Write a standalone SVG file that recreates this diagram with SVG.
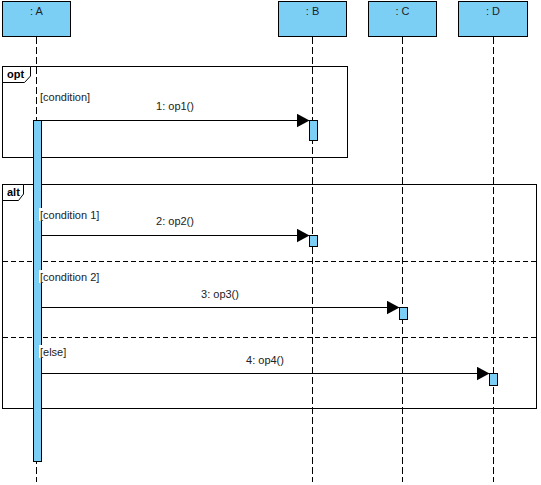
<svg xmlns="http://www.w3.org/2000/svg" width="541" height="485" viewBox="0 0 541 485">
<style>
.head{fill:#7BCFF5;stroke:#000;stroke-width:1}
.act{fill:#7BCFF5;stroke:#000;stroke-width:1}
.life{stroke:#000;stroke-width:1;stroke-dasharray:7,3;fill:none}
.frame{fill:none;stroke:#000;stroke-width:1}
.sep{stroke:#000;stroke-width:1;stroke-dasharray:5,3}
.msg{stroke:#000;stroke-width:1;fill:none;marker-end:url(#arr)}
text{font-family:"Liberation Sans",Arial,sans-serif;font-size:11px;fill:#222}
.tag{font-weight:bold;fill:#000}
.c{text-anchor:middle}
</style>
<defs>
<marker id="arr" markerWidth="13" markerHeight="14" refX="13" refY="7" orient="auto" markerUnits="userSpaceOnUse">
<path d="M0,0 L13,7 L0,14 Z" fill="#000"/>
</marker>
</defs>
<g id="lifelines">
<line class="life" x1="36.5" y1="37" x2="36.5" y2="482"/>
<line class="life" x1="312.5" y1="37" x2="312.5" y2="482"/>
<line class="life" x1="402.5" y1="37" x2="402.5" y2="482"/>
<line class="life" x1="493.5" y1="37" x2="493.5" y2="482"/>
</g>
<g id="frame-opt">
<rect class="frame" x="2.5" y="66.5" width="345" height="91" fill="none"/>
<path d="M2.5,82.5 H24.5 L30.5,76 V66.5" fill="#fff" stroke="#000"/>
<text class="tag" x="7" y="78">opt</text>
</g>
<g id="frame-alt">
<rect class="frame" x="2.5" y="184.5" width="534" height="224"/>
<path d="M2.5,200.5 H18.5 L23.5,194 V184.5" fill="#fff" stroke="#000"/>
<text class="tag" x="7" y="196">alt</text>
<line class="sep" x1="3" y1="261.5" x2="536" y2="261.5"/>
<line class="sep" x1="3" y1="337.5" x2="536" y2="337.5"/>
</g>
<g id="A">
<rect class="head" x="2.5" y="1.5" width="68" height="35"/>
<text class="c" x="36.5" y="15">: A</text>
<rect class="act" x="33.5" y="120.5" width="8" height="341"/>
</g>
<g id="B">
<rect class="head" x="278.5" y="1.5" width="68" height="35"/>
<text class="c" x="312.5" y="15">: B</text>
<rect class="act" x="309.5" y="120.5" width="8" height="20"/>
<rect class="act" x="309.5" y="235.5" width="8" height="11"/>
</g>
<g id="C">
<rect class="head" x="368.5" y="1.5" width="68" height="35"/>
<text class="c" x="402.5" y="15">: C</text>
<rect class="act" x="399.5" y="307.5" width="8" height="12"/>
</g>
<g id="D">
<rect class="head" x="458.5" y="1.5" width="69" height="35"/>
<text class="c" x="493" y="15">: D</text>
<rect class="act" x="489.5" y="373.5" width="8" height="12"/>
</g>
<g id="guards">
<rect x="39" y="90" width="54" height="13" fill="#fff"/>
<text x="40" y="101">[condition]</text>
<rect x="39" y="208" width="62" height="13" fill="#fff"/>
<text x="40" y="219">[condition 1]</text>
<rect x="39" y="270" width="62" height="13" fill="#fff"/>
<text x="40" y="281">[condition 2]</text>
<rect x="39" y="345" width="30" height="13" fill="#fff"/>
<text x="40" y="356">[else]</text>
</g>
<g id="connectors">
<line class="msg" x1="41.5" y1="120.5" x2="309.5" y2="120.5"/>
<text class="c" x="175" y="110">1: op1()</text>
<line class="msg" x1="41.5" y1="235.5" x2="309.5" y2="235.5"/>
<text class="c" x="175" y="225">2: op2()</text>
<line class="msg" x1="41.5" y1="307.5" x2="399.5" y2="307.5"/>
<text class="c" x="220" y="298">3: op3()</text>
<line class="msg" x1="41.5" y1="373.5" x2="489.5" y2="373.5"/>
<text class="c" x="265" y="364">4: op4()</text>
</g>
</svg>
